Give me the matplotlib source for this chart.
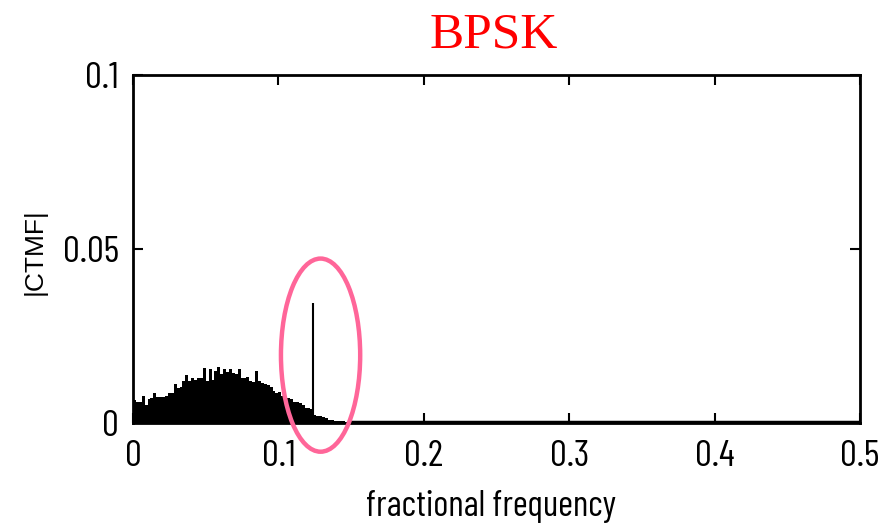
import numpy as np
import matplotlib
matplotlib.use("Agg")
import matplotlib.pyplot as plt
from matplotlib.patches import Ellipse

# ---- data ----
bin_width = 0.002
amp = [0.0066, 0.0061, 0.0061, 0.0078, 0.0052, 0.0070, 0.0072, 0.0086, 0.0075, 0.0076,
       0.0076, 0.0078, 0.0086, 0.0086, 0.0112, 0.0101, 0.0103, 0.0121, 0.0138, 0.0121,
       0.0130, 0.0124, 0.0130, 0.0130, 0.0158, 0.0121, 0.0155, 0.0125, 0.0150, 0.0162,
       0.0140, 0.0155, 0.0147, 0.0155, 0.0143, 0.0140, 0.0155, 0.0130, 0.0128, 0.0132,
       0.0121, 0.0118, 0.0149, 0.0121, 0.0114, 0.0112, 0.0110, 0.0104, 0.0092, 0.0085,
       0.0088, 0.0078, 0.0075, 0.0072, 0.0068, 0.0060, 0.0060, 0.0058, 0.0052, 0.0044,
       0.0044, 0.0039, 0.0022, 0.0020, 0.0020, 0.0018, 0.0015, 0.0009, 0.0008, 0.0007,
       0.0006, 0.0005, 0.0005, 0.0004, 0.0004]
spike_freq = 0.1240
spike_amp = 0.0345
floor_start = 0.150
floor_amp = 0.0003

xticks = [0, 0.1, 0.2, 0.3, 0.4, 0.5]
xtick_labels = ["0", "0.1", "0.2", "0.3", "0.4", "0.5"]
yticks = [0, 0.05, 0.1]
ytick_labels = ["0", "0.05", "0.1"]

title = "BPSK"
xlabel = "fractional frequency"
ylabel = "|CTMF|"

# ---- figure ----
fig = plt.figure(figsize=(8.96, 5.31), dpi=100)
ax = fig.add_axes([133/896, 1-423/531, (860-133)/896, (423-75)/531])

narrow = ["Barlow Condensed", "PT Sans Narrow", "Archivo Narrow", "DejaVu Sans"]

freq = np.arange(len(amp)) * bin_width
ax.bar(freq, amp, width=bin_width, align="edge", color="black", linewidth=0)
ax.vlines(spike_freq, 0, spike_amp, color="black", linewidth=1.5)
ax.plot([floor_start - 0.002, 0.5], [floor_amp, floor_amp], color="black", linewidth=2.5,
        solid_capstyle="butt")

ax.set_xlim(0, 0.5)
ax.set_ylim(0, 0.1)
ax.set_xticks(xticks)
ax.set_xticklabels(xtick_labels)
ax.set_yticks(yticks)
ax.set_yticklabels(ytick_labels)
ax.tick_params(direction="in", length=7, width=1.5, top=True, right=True,
               labelsize=27)
ax.tick_params(axis="y", pad=10)
ax.tick_params(axis="x", pad=12)
for lab in ax.get_xticklabels() + ax.get_yticklabels():
    lab.set_family(narrow)
for s in ax.spines.values():
    s.set_linewidth(2)

ax.set_xlabel(xlabel, fontsize=26, family=narrow)
ax.xaxis.set_label_coords((491 - 133) / (860 - 133), (423 - 490) / (423 - 75))
ax.set_ylabel(ylabel, fontsize=19, family=["Liberation Sans", "DejaVu Sans"])
ax.yaxis.set_label_coords((47 - 133) / (860 - 133), (423 - 252) / (423 - 75))

fig.text(494/896, 1-35/531, title, color="red", fontsize=37,
         family=["Liberation Serif", "DejaVu Serif"], ha="center", va="center")

ell = Ellipse((0.1290, 0.0195), width=0.0545, height=0.0555, fill=False,
              edgecolor="#ff6699", linewidth=3.2, clip_on=False, zorder=5)
ax.add_patch(ell)

fig.savefig("out.png", dpi=100, facecolor="white")
